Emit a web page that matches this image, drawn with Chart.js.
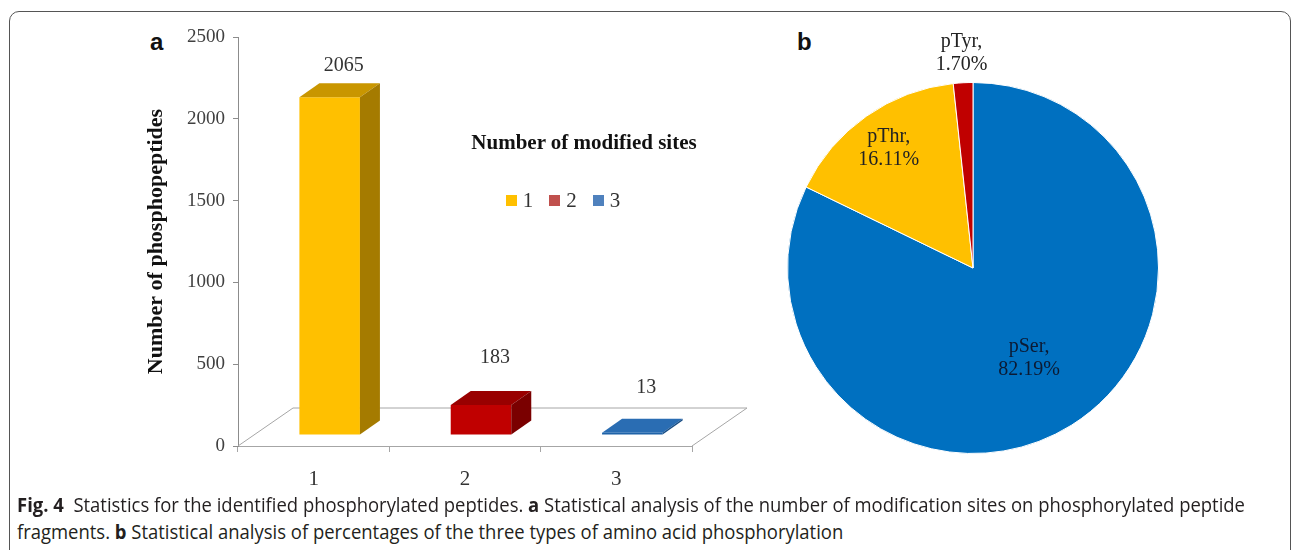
<!DOCTYPE html>
<html lang="en">
<head>
  <meta charset="UTF-8">
  <title>Fig. 4 - Phosphorylated peptides</title>
  <script src="https://cdn.jsdelivr.net/npm/chart.js"></script>
  <style>
    html, body { margin: 0; padding: 0; background: #fff; }
    body { width: 1293px; height: 550px; position: relative; overflow: hidden; }
    .frame {
      position: absolute; left: 9px; top: 11px; width: 1282px; height: 700px;
      box-sizing: border-box; border: 1.5px solid #555; border-radius: 10px;
    }
    canvas { position: absolute; }
    #graficoBarras { left: 0; top: 0; }
    #graficoPizza { left: 763px; top: 18px; }
    .painel {
      position: absolute; font-family: "Liberation Sans", Arial, sans-serif;
      font-weight: bold; font-size: 24px; line-height: 24px; color: #111;
    }
    .legenda-titulo {
      position: absolute; left: 384px; top: 130px; width: 400px; text-align: center;
      font-family: "Liberation Serif", "Times New Roman", serif; font-weight: bold;
      font-size: 21px; line-height: 24px; color: #111;
    }
    .legenda {
      position: absolute; left: 384px; top: 188px; width: 358px;
      display: flex; justify-content: center; gap: 16px;
      font-family: "Liberation Serif", "Times New Roman", serif; font-size: 21px;
      line-height: 24px; color: #333;
    }
    .legenda span { display: flex; align-items: center; gap: 6px; }
    .legenda i { display: inline-block; width: 11px; height: 11px; }
    .caption {
      position: absolute; left: 17px; white-space: nowrap; transform-origin: 0 50%;
      font-family: "Open Sans", "Noto Sans", sans-serif; font-size: 20px;
      line-height: 27px; color: #231f20;
    }
    #cap1 { top: 491px; }
    #cap2 { top: 518px; }
  </style>
</head>
<body>
  <div class="frame"></div>
  <div class="painel" style="left:150px; top:30px;">a</div>
  <div class="painel" style="left:797px; top:30px;">b</div>

  <canvas id="graficoBarras" width="770" height="500"></canvas>
  <canvas id="graficoPizza" width="420" height="500"></canvas>

  <div class="legenda-titulo">Number of modified sites</div>
  <div class="legenda" id="legenda"></div>

  <div class="caption" id="cap1"><b>Fig. 4</b>&nbsp; Statistics for the identified phosphorylated peptides. <b>a</b> Statistical analysis of the number of modification sites on phosphorylated peptide</div>
  <div class="caption" id="cap2">fragments. <b>b</b> Statistical analysis of percentages of the three types of amino acid phosphorylation</div>

  <script>
    // painel a: numero de sitios modificados
    const sitios = ['1', '2', '3'];
    const peptideos = [2065, 183, 13];
    const eixoY = [0, 500, 1000, 1500, 2000, 2500];

    // painel b: tipos de fosforilacao
    const tipos = ['pSer', 'pThr', 'pTyr'];
    const percentuais = [82.19, 16.11, 1.70];

    const corFrente = ['#FFC000', '#C00000', '#1F63A8'];
    const corTopo = ['#C99600', '#990000', '#2A6DB3'];
    const corLado = ['#A57B00', '#7A0000', '#174D85'];
    const corLegenda = ['#FFC000', '#C0504D', '#4F81BD'];
    const corPizza = ['#0070C0', '#FFC000', '#C00000'];

    Chart.defaults.animation = false;
    Chart.defaults.font.family = '"Liberation Serif", "Times New Roman", serif';

    // barras 3D: o proprio Chart.js desenha a face da frente, o plugin desenha topo e lado
    const barras3d = {
      id: 'barras3d',
      beforeDatasetsDraw(chart, args, opts) {
        const { ctx, chartArea: a } = chart;
        const [px, py] = opts.piso;
        ctx.save();
        ctx.strokeStyle = '#A6A6A6';
        ctx.lineWidth = 1;
        ctx.beginPath();
        ctx.moveTo(a.left, a.bottom);
        ctx.lineTo(a.left + px, a.bottom + py);
        ctx.lineTo(a.right + px, a.bottom + py);
        ctx.lineTo(a.right, a.bottom);
        ctx.stroke();
        ctx.restore();
        ctx.save();
        ctx.translate(opts.frente[0], opts.frente[1]);
      },
      afterDatasetsDraw(chart, args, opts) {
        const ctx = chart.ctx;
        ctx.restore();
        const [fx, fy] = opts.frente;
        const [dx, dy] = opts.prof;
        chart.getDatasetMeta(0).data.forEach((bar, i) => {
          const { x, y, base, width } = bar.getProps(['x', 'y', 'base', 'width'], true);
          const l = x - width / 2 + fx, r = x + width / 2 + fx, t = y + fy, b = base + fy;
          ctx.fillStyle = corTopo[i];
          ctx.beginPath();
          ctx.moveTo(l, t); ctx.lineTo(l + dx, t + dy); ctx.lineTo(r + dx, t + dy); ctx.lineTo(r, t);
          ctx.closePath(); ctx.fill();
          ctx.fillStyle = corLado[i];
          ctx.beginPath();
          ctx.moveTo(r, t); ctx.lineTo(r + dx, t + dy); ctx.lineTo(r + dx, b + dy); ctx.lineTo(r, b);
          ctx.closePath(); ctx.fill();

          ctx.fillStyle = '#333';
          ctx.font = '20px "Liberation Serif", serif';
          ctx.textAlign = 'center';
          ctx.textBaseline = 'middle';
          ctx.fillText(String(peptideos[i]), x + fx + 14, t - opts.subida[i]);
        });
      }
    };

    new Chart(document.getElementById('graficoBarras'), {
      type: 'bar',
      data: {
        labels: sitios,
        datasets: [{
          data: peptideos,
          backgroundColor: corFrente,
          barPercentage: 0.4,
          categoryPercentage: 1,
          clip: false
        }]
      },
      options: {
        responsive: false,
        layout: { padding: { left: 130, top: 37, right: 78, bottom: 0 } },
        scales: {
          x: {
            grid: { drawOnChartArea: false, tickLength: 6, color: '#A6A6A6' },
            border: { color: '#A6A6A6' },
            ticks: { color: '#333', font: { size: 21 }, padding: 15 },
            afterFit: s => { s.height = 54; }
          },
          y: {
            min: 0, max: 2500,
            afterBuildTicks: s => { s.ticks = eixoY.map(v => ({ value: v })); },
            grid: { drawOnChartArea: false, tickLength: 5, color: '#8C8C8C' },
            border: { color: '#8C8C8C' },
            ticks: { color: '#404040', font: { size: 19 }, padding: 8, callback: v => String(v) },
            title: {
              display: true, text: 'Number of phosphopeptides', color: '#111',
              font: { size: 22, weight: 'bold' }, padding: { top: 13 }
            },
            afterFit: s => { s.width = 108; }
          }
        },
        plugins: {
          legend: { display: false },
          tooltip: { enabled: false },
          barras3d: { piso: [55, -38], frente: [16, -11], prof: [20, -14], subida: [31, 47, 45] }
        }
      },
      plugins: [barras3d]
    });

    // rotulos da pizza
    const rotulosPizza = {
      id: 'rotulosPizza',
      afterDatasetsDraw(chart, args, opts) {
        const ctx = chart.ctx;
        ctx.save();
        ctx.font = '20px "Liberation Serif", serif';
        ctx.textAlign = 'center';
        ctx.textBaseline = 'middle';
        chart.getDatasetMeta(0).data.forEach((arc, i) => {
          const { x, y, startAngle, endAngle, outerRadius } =
            arc.getProps(['x', 'y', 'startAngle', 'endAngle', 'outerRadius'], true);
          const meio = (startAngle + endAngle) / 2;
          const r = outerRadius * opts.raio[i];
          const cx = x + Math.cos(meio) * r, cy = y + Math.sin(meio) * r;
          ctx.fillStyle = opts.cor[i];
          ctx.fillText(tipos[i] + ',', cx, cy - 11);
          ctx.fillText(percentuais[i].toFixed(2) + '%', cx, cy + 12);
        });
        ctx.restore();
      }
    };

    new Chart(document.getElementById('graficoPizza'), {
      type: 'pie',
      data: {
        labels: tipos,
        datasets: [{
          data: percentuais,
          backgroundColor: corPizza,
          borderColor: '#fff',
          borderWidth: 1
        }]
      },
      options: {
        responsive: false,
        layout: { padding: { left: 24, right: 24, top: 64, bottom: 64 } },
        plugins: {
          legend: { display: false },
          tooltip: { enabled: false },
          rotulosPizza: { raio: [0.57, 0.79, 1.16], cor: ['#0B1A33', '#222', '#222'] }
        }
      },
      plugins: [rotulosPizza]
    });

    // legenda do painel a
    document.getElementById('legenda').innerHTML = sitios
      .map((s, i) => `<span><i style="background:${corLegenda[i]}"></i>${s}</span>`)
      .join('');

    // legenda da figura: ajusta a largura da primeira linha
    const cap1 = document.getElementById('cap1');
    const cap2 = document.getElementById('cap2');
    const escala = 1228 / cap1.offsetWidth;
    cap1.style.transform = `scaleX(${escala})`;
    cap2.style.transform = `scaleX(${escala})`;
  </script>
</body>
</html>
